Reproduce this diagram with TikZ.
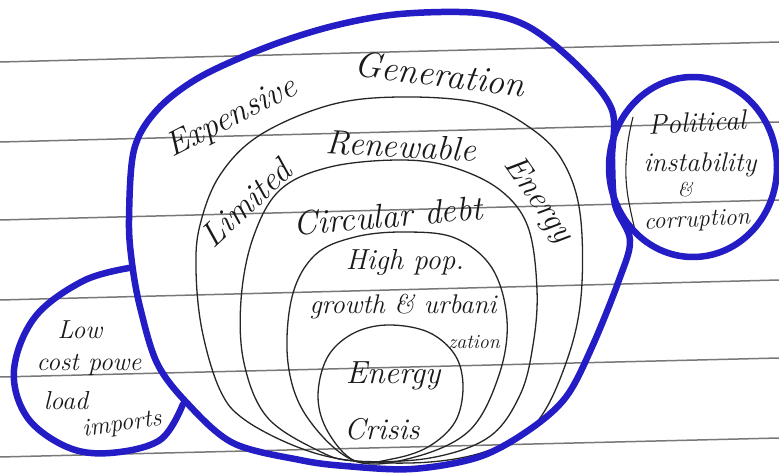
\documentclass[tikz,border=0pt]{standalone}
\definecolor{ink}{RGB}{36,28,196}
\definecolor{rulegrey}{RGB}{120,120,120}
\newcommand\hwsize[1]{\fontsize{#1}{#1}\selectfont\itshape}
\begin{document}
\begin{tikzpicture}[x=1pt,y=-1pt,
  blueline/.style={draw=ink, line width=6.5pt, line cap=round, line join=round},
  pen/.style={draw=black!85, line width=1.3pt},
  ruled/.style={draw=rulegrey, line width=1.5pt},
  hw/.style={inner sep=0pt, text=black!90}]
\useasboundingbox (0,0) rectangle (779,473);
\fill[white] (0,0) rectangle (779,473);
% ruled paper
\foreach \a/\b in {62/42,142/122,220/200,300/280,377/358,457/438}
  \draw[ruled] (0,\a) -- (779,\b);
% nested black circles
\draw[pen] plot[smooth cycle, tension=0.6] coordinates {(355,461) (300,448) (245,420) (220,390) (202,330) (196,270) (200,225) (220,175) (260,135) (330,105) (400,97) (479,103) (529,127) (562,160) (580,213) (581,297) (566,363) (536,423) (490,450) (430,462)};
\draw[pen] plot[smooth cycle, tension=0.6] coordinates {(355,461) (317,450) (267,417) (244,363) (241,300) (253,238) (280,190) (330,167) (400,160) (452,167) (500,190) (528,227) (537,290) (533,345) (520,395) (489,437) (430,458)};
\draw[pen] plot[smooth cycle, tension=0.6] coordinates {(355,461) (307,417) (288,363) (292,297) (315,255) (355,237) (405,232) (455,238) (492,268) (507,320) (499,375) (470,430) (415,457)};
\draw[pen] plot[smooth cycle, tension=0.6] coordinates {(355,461) (328,432) (318,397) (327,358) (352,334) (387,325) (428,332) (455,355) (463,387) (455,422) (428,447) (392,459)};
% bracket in right circle
\draw[pen, line width=1.1pt] plot[smooth, tension=0.7] coordinates {(633,117) (627,150) (627,190) (637,238)};
% big blue blob
\draw[blueline] plot[smooth cycle, tension=0.55] coordinates {(400,14) (479,13) (529,27) (579,67) (612,110) (612,160) (615,205) (630,240) (619,280) (592,347) (566,397) (529,430) (479,457) (412,469) (345,466) (300,460) (233,443) (187,403) (157,363) (140,307) (132,263) (129,220) (134,150) (157,110) (200,77) (267,47) (333,26)};
% left teardrop
\draw[blueline] plot[smooth, tension=0.6] coordinates {(129,268) (83,281) (35,317) (14,370) (27,417) (67,447) (110,453) (160,440) (183,404)};
% right circle
\draw[blueline] (693,167) ellipse [x radius=84, y radius=90];
% texts
\node[hw, font=\hwsize{34}, rotate=27] (t1) at (232,118) {Expensive};
\node[hw, font=\hwsize{36}, rotate=-7] (t2) at (440,74) {Generation};
\node[hw, font=\hwsize{34}, rotate=43] (t3) at (246,203) {Limited};
\node[hw, font=\hwsize{34}, rotate=-3] (t4) at (401,146) {Renewable};
\node[hw, font=\hwsize{33}, rotate=-55] (t5) at (538,200) {Energy};
\node[hw, font=\hwsize{34}, rotate=5] (t6) at (388,216) {Circular debt};
\node[hw, font=\hwsize{29}] (t7) at (405,262) {High pop.};
\node[hw, font=\hwsize{27}] (t8) at (403,307) {growth \& urbani};
\node[hw, font=\hwsize{20}] (t9) at (474,342) {zation};
\node[hw, font=\hwsize{32}] (t10) at (393,376) {Energy};
\node[hw, font=\hwsize{30}] (t11) at (382,429) {Crisis};
\node[hw, font=\hwsize{28}, rotate=3] (t12) at (697,122) {Political};
\node[hw, font=\hwsize{27}] (t13) at (700,165) {instability};
\node[hw, font=\hwsize{20}] (t14) at (685,190) {\&};
\node[hw, font=\hwsize{24}, rotate=3] (t15) at (697,221) {corruption};
\node[hw, font=\hwsize{26}] (t16) at (80,330) {Low};
\node[hw, font=\hwsize{26}] (t17) at (89,365) {cost powe};
\node[hw, font=\hwsize{26}] (t18) at (66,401) {load};
\node[hw, font=\hwsize{25}, rotate=8] (t19) at (122,425) {imports};
\end{tikzpicture}
\end{document}
